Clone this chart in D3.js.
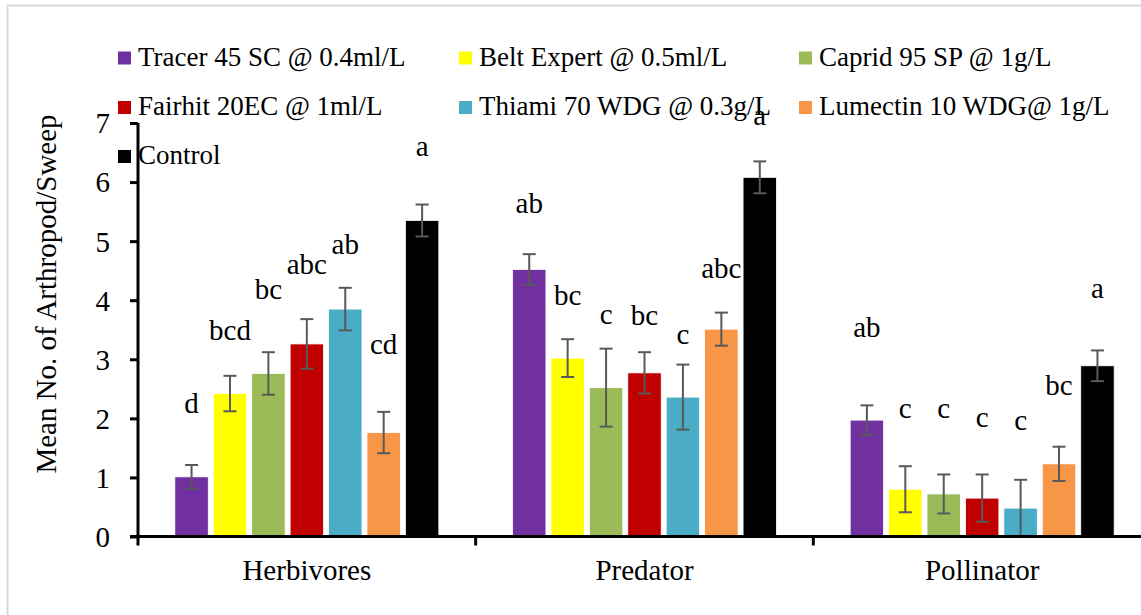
<!DOCTYPE html>
<html>
<head>
<meta charset="utf-8">
<script src="https://cdn.jsdelivr.net/npm/d3@7"></script>
<style>
  body { margin: 0; background: #fff; }
  svg, svg text { font-family: "Liberation Serif", "Times New Roman", "DejaVu Serif", serif !important; }
</style>
</head>
<body>
<div id="chart"></div>
<script>
var svgWidth = 1141;
var svgHeight = 615;
var serif = "'Liberation Serif', 'Times New Roman', 'DejaVu Serif', serif";

// data
var categories = ["Herbivores", "Predator", "Pollinator"];
var treatments = [
  "Tracer 45 SC @ 0.4ml/L", "Belt Expert @ 0.5ml/L", "Caprid 95 SP @ 1g/L",
  "Fairhit 20EC @ 1ml/L", "Thiami 70 WDG @ 0.3g/L", "Lumectin 10 WDG@ 1g/L",
  "Control"
];
var colors = ["#7030a0", "#ffff00", "#9bbb59", "#c00000", "#4bacc6", "#f79646", "#000000"];

// mean per treatment, one array per category
var herbivores = [1.01, 2.42, 2.76, 3.26, 3.85, 1.76, 5.35];
var predator   = [4.52, 3.02, 2.52, 2.77, 2.36, 3.51, 6.08];
var pollinator = [1.97, 0.80, 0.72, 0.65, 0.48, 1.23, 2.89];

// standard error
var herbivoresErr = [0.20, 0.30, 0.36, 0.42, 0.36, 0.35, 0.27];
var predatorErr   = [0.26, 0.32, 0.66, 0.35, 0.55, 0.28, 0.27];
var pollinatorErr = [0.25, 0.39, 0.33, 0.40, 0.48, 0.29, 0.26];

// significance letters and the value height where each is written
var herbivoresLetters = ["d", "bcd", "bc", "abc", "ab", "cd", "a"];
var predatorLetters   = ["ab", "bc", "c", "bc", "c", "abc", "a"];
var pollinatorLetters = ["ab", "c", "c", "c", "c", "bc", "a"];
var herbivoresLetterAt = [2.09, 3.33, 4.02, 4.44, 4.78, 3.09, 6.44];
var predatorLetterAt   = [5.48, 3.92, 3.60, 3.58, 3.26, 4.38, 6.97];
var pollinatorLetterAt = [3.38, 2.01, 2.01, 1.85, 1.80, 2.40, 4.04];

var yTicks = [0, 1, 2, 3, 4, 5, 6, 7];

var means = [herbivores, predator, pollinator];
var errs = [herbivoresErr, predatorErr, pollinatorErr];
var letters = [herbivoresLetters, predatorLetters, pollinatorLetters];
var letterAt = [herbivoresLetterAt, predatorLetterAt, pollinatorLetterAt];

var rows = [];
categories.forEach(function(c, i) {
  treatments.forEach(function(t, j) {
    rows.push({cat: c, trt: t, idx: j, value: means[i][j], err: errs[i][j],
               letter: letters[i][j], at: letterAt[i][j]});
  });
});

var svg = d3.select("#chart")
  .append("svg")
  .attr("width", svgWidth)
  .attr("height", svgHeight)
  .attr("font-family", serif);

// chart area border (runs off the right and bottom)
svg.append("rect")
  .attr("x", 7.5).attr("y", 5.5)
  .attr("width", 1200).attr("height", 700)
  .attr("fill", "none")
  .attr("stroke", "#d9d9d9")
  .attr("stroke-width", 2);

var x0 = d3.scaleBand()
  .domain(categories)
  .range([138, 1151]);
var x1 = d3.scaleBand()
  .domain(treatments)
  .range([0, 264])
  .paddingInner(0.13);
var groupOffset = (x0.bandwidth() - 264) / 2;
var y = d3.scaleLinear()
  .domain([0, 7])
  .range([536.5, 123]);

// bars
svg.selectAll("rect.bar")
  .data(rows)
  .enter()
  .append("rect")
  .attr("class", "bar")
  .attr("x", d => x0(d.cat) + groupOffset + x1(d.trt))
  .attr("y", d => y(d.value))
  .attr("width", x1.bandwidth())
  .attr("height", d => y(0) - y(d.value))
  .attr("fill", d => colors[d.idx])
  .attr("stroke", "#ffffff")
  .attr("stroke-width", 0.8);

// error bars
var eb = svg.append("g")
  .attr("stroke", "#595959")
  .attr("stroke-width", 2);
var cx = d => x0(d.cat) + groupOffset + x1(d.trt) + x1.bandwidth() / 2;
eb.selectAll("line.v").data(rows).enter().append("line")
  .attr("x1", cx).attr("x2", cx)
  .attr("y1", d => y(d.value + d.err))
  .attr("y2", d => y(Math.max(0, d.value - d.err)));
eb.selectAll("line.t").data(rows).enter().append("line")
  .attr("x1", d => cx(d) - 6.5).attr("x2", d => cx(d) + 6.5)
  .attr("y1", d => y(d.value + d.err))
  .attr("y2", d => y(d.value + d.err));
eb.selectAll("line.b").data(rows).enter().append("line")
  .attr("x1", d => cx(d) - 6.5).attr("x2", d => cx(d) + 6.5)
  .attr("y1", d => y(Math.max(0, d.value - d.err)))
  .attr("y2", d => y(Math.max(0, d.value - d.err)));

// letters
svg.selectAll("text.letter")
  .data(rows)
  .enter()
  .append("text")
  .attr("class", "letter")
  .attr("x", cx)
  .attr("y", d => y(d.at))
  .attr("text-anchor", "middle")
  .attr("font-family", serif)
  .attr("font-size", 29)
  .text(d => d.letter);

// y axis
var leftAxis = d3.axisLeft(y)
  .tickValues(yTicks)
  .tickSize(8)
  .tickPadding(20)
  .tickFormat(d3.format("d"));
var gy = svg.append("g")
  .attr("transform", "translate(138,0)")
  .call(leftAxis)
  .attr("font-family", serif);
gy.select(".domain").attr("stroke-width", 3).attr("d", "M0," + y(7) + "V" + y(0));
gy.selectAll(".tick line").attr("stroke-width", 3);
gy.selectAll(".tick text")
  .attr("font-size", 29)
  .attr("font-family", serif)
  .attr("dy", "0.34em");

// x axis
var gx = svg.append("g")
  .attr("transform", "translate(0," + y(0) + ")");
gx.append("line")
  .attr("x1", 130).attr("x2", 1160)
  .attr("stroke", "#000").attr("stroke-width", 3);
gx.selectAll("line.tick")
  .data(categories.concat(["end"]))
  .enter()
  .append("line")
  .attr("x1", (d, i) => i < categories.length ? x0(d) : x0.range()[1])
  .attr("x2", (d, i) => i < categories.length ? x0(d) : x0.range()[1])
  .attr("y1", 0).attr("y2", 9)
  .attr("stroke", "#000").attr("stroke-width", 3);
gx.selectAll("text.cat")
  .data(categories)
  .enter()
  .append("text")
  .attr("class", "cat")
  .attr("x", d => x0(d) + x0.bandwidth() / 2)
  .attr("y", 43)
  .attr("text-anchor", "middle")
  .attr("font-family", serif)
  .attr("font-size", 29)
  .text(d => d);

// y title
svg.append("text")
  .attr("transform", "translate(56,294) rotate(-90)")
  .attr("text-anchor", "middle")
  .attr("font-family", serif)
  .attr("font-size", 29)
  .text("Mean No. of Arthropod/Sweep");

// legend
var legendCols = [118, 459, 799];
var legendRows = [65.5, 115, 164];
var legend = svg.selectAll("g.legend")
  .data(treatments)
  .enter()
  .append("g")
  .attr("class", "legend")
  .attr("transform", (d, i) => "translate(" + legendCols[i % 3] + "," + legendRows[Math.floor(i / 3)] + ")");
legend.append("rect")
  .attr("x", 0).attr("y", -14)
  .attr("width", 13).attr("height", 13)
  .attr("fill", (d, i) => colors[i]);
legend.append("text")
  .attr("x", 20)
  .attr("y", 0)
  .attr("font-family", serif)
  .attr("font-size", 27)
  .text(d => d);
</script>
</body>
</html>
